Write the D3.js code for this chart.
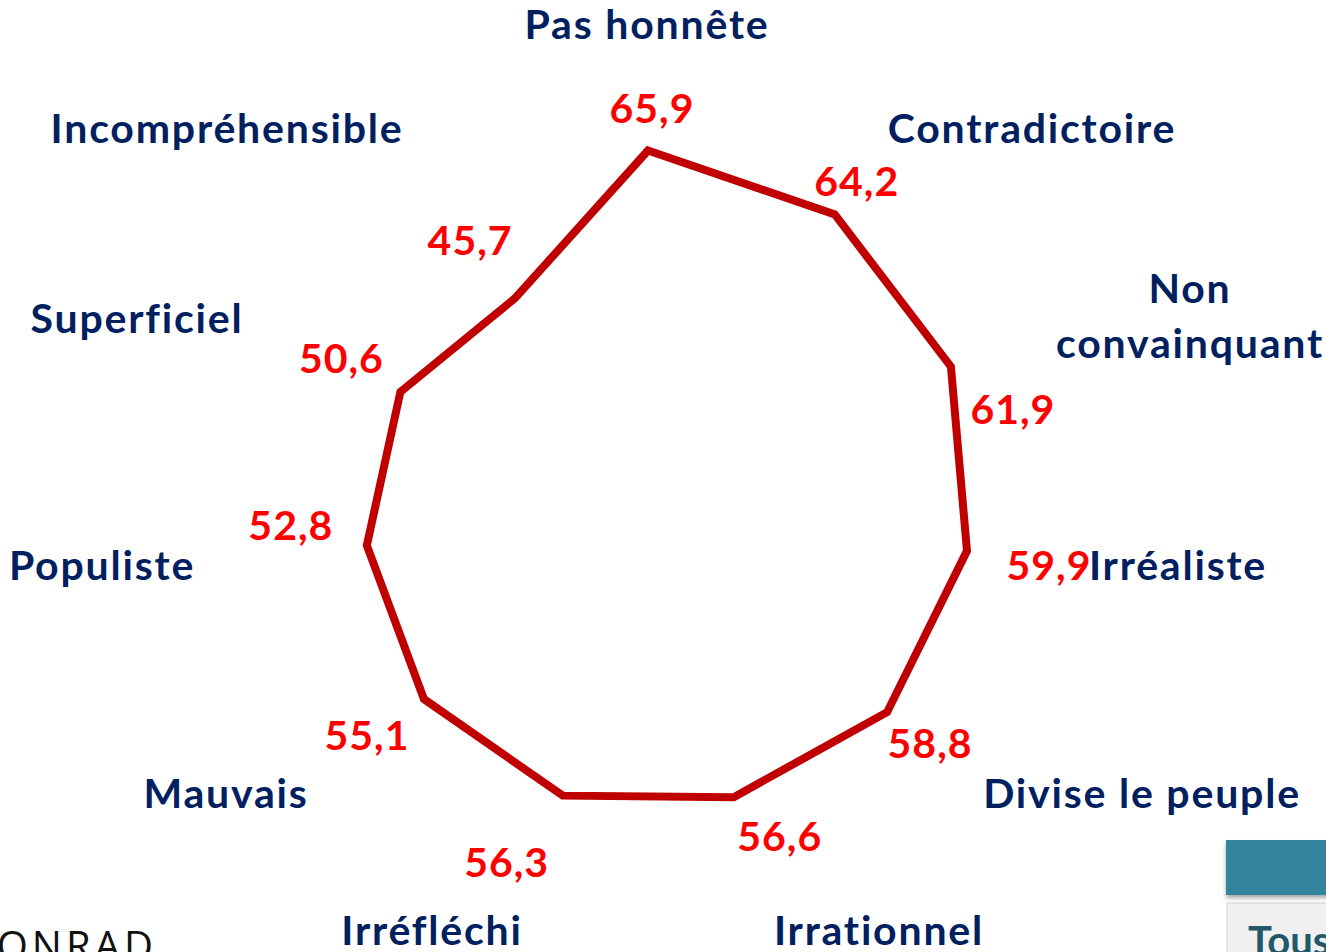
<!DOCTYPE html>
<html>
<head>
<meta charset="utf-8">
<script src="https://cdn.jsdelivr.net/npm/d3@7"></script>
<style>
  html, body { margin: 0; padding: 0; background: #fff; }
  svg { display: block; }
</style>
</head>
<body>
<div id="chart"></div>
<script>
// radar: share of respondents per qualifier (%)
const categories = ['Pas honnête', 'Contradictoire', 'Non convainquant', 'Irréaliste', 'Divise le peuple',
  'Irrationnel', 'Irréfléchi', 'Mauvais', 'Populiste', 'Superficiel', 'Incompréhensible'];
const values = [65.9, 64.2, 61.9, 59.9, 58.8, 56.6, 56.3, 55.1, 52.8, 50.6, 45.7];

// category label lines (multi-line where the slide breaks them)
const catLines = [['Pas honnête'], ['Contradictoire'], ['Non', 'convainquant'], ['Irréaliste'], ['Divise le peuple'],
  ['Irrationnel'], ['Irréfléchi'], ['Mauvais'], ['Populiste'], ['Superficiel'], ['Incompréhensible']];

// layout: where the slide put the text boxes
const catPos = [[647, 39], [1032, 143], [1190, 303], [1178, 580], [1142, 808],
  [879, 945], [432, 945], [226, 808], [102, 580], [137, 333], [227, 143]];
// value labels nudged from their vertex
const valOffset = [[4, -27], [22, -18], [62, 57], [82, 29], [43, 46],
  [46, 54], [-56, 81], [-57, 51], [-76, -5], [-59, -19], [-45, -43]];

const W = 1326, H = 952;
const cx = 648, cy = 505;
const navy = '#002060', red = '#ff0000', lineCol = '#c00000';
const font = 'Lato, "Open Sans", sans-serif';

const svg = d3.select('#chart').append('svg').attr('width', W).attr('height', H);
svg.append('rect').attr('width', W).attr('height', H).attr('fill', '#fff');

const angle = d3.scalePoint().domain(categories).range([0, 2 * Math.PI * (1 - 1 / categories.length)]);
const r = d3.scaleLinear().domain([0, 70]).range([0, 376.6]);

const g = svg.append('g').attr('transform', `translate(${cx},${cy})`);

const radial = d3.lineRadial()
  .angle((d, i) => angle(categories[i]))
  .radius(d => r(d))
  .curve(d3.curveLinearClosed);

g.append('path')
  .attr('d', radial(values))
  .attr('fill', 'none')
  .attr('stroke', lineCol)
  .attr('stroke-width', 8)
  .attr('stroke-linejoin', 'miter');

function pt(i) {
  const a = angle(categories[i]), rr = r(values[i]);
  return [rr * Math.sin(a), -rr * Math.cos(a)];
}

// value labels
g.selectAll('text.val').data(values).join('text')
  .attr('class', 'val')
  .attr('x', (d, i) => pt(i)[0] + valOffset[i][0])
  .attr('y', (d, i) => pt(i)[1] + valOffset[i][1])
  .attr('text-anchor', 'middle')
  .attr('font-family', font).attr('font-weight', 700).attr('font-size', 41)
  .attr('letter-spacing', 1)
  .attr('fill', red)
  .text(d => d3.format('.1f')(d).replace('.', ','));

// category labels
const cat = svg.selectAll('text.cat').data(catLines).join('text')
  .attr('class', 'cat')
  .attr('text-anchor', 'middle')
  .attr('font-family', font).attr('font-weight', 700).attr('font-size', 41)
  .attr('letter-spacing', 1.8)
  .attr('fill', navy);
cat.each(function (lines, i) {
  d3.select(this).selectAll('tspan').data(lines).join('tspan')
    .attr('x', catPos[i][0])
    .attr('y', (d, j) => catPos[i][1] + j * 55)
    .text(d => d);
});

// slide leftovers: logo fragment and side panel
svg.append('text')
  .attr('x', 157).attr('y', 960)
  .attr('text-anchor', 'end')
  .attr('font-family', '"Open Sans", sans-serif').attr('font-weight', 400)
  .attr('font-size', 40).attr('letter-spacing', 4)
  .attr('fill', '#111')
  .text('KONRAD');

const shadow = svg.append('defs').append('filter').attr('id', 'sh')
  .attr('x', '-10%').attr('y', '-10%').attr('width', '130%').attr('height', '140%');
shadow.append('feDropShadow').attr('dx', 0).attr('dy', 3).attr('stdDeviation', 2)
  .attr('flood-color', '#000').attr('flood-opacity', 0.35);

svg.append('rect').attr('x', 1226).attr('y', 840).attr('width', 110).attr('height', 55)
  .attr('fill', '#31859c').attr('filter', 'url(#sh)');
svg.append('rect').attr('x', 1227).attr('y', 903).attr('width', 110).attr('height', 60)
  .attr('fill', '#f0f0f0').attr('stroke', '#dcdcdc').attr('stroke-width', 1.5);
svg.append('text')
  .attr('x', 1248).attr('y', 955)
  .attr('font-family', font).attr('font-weight', 700).attr('font-size', 40)
  .attr('fill', '#215968')
  .text('Tous');
</script>
</body>
</html>
